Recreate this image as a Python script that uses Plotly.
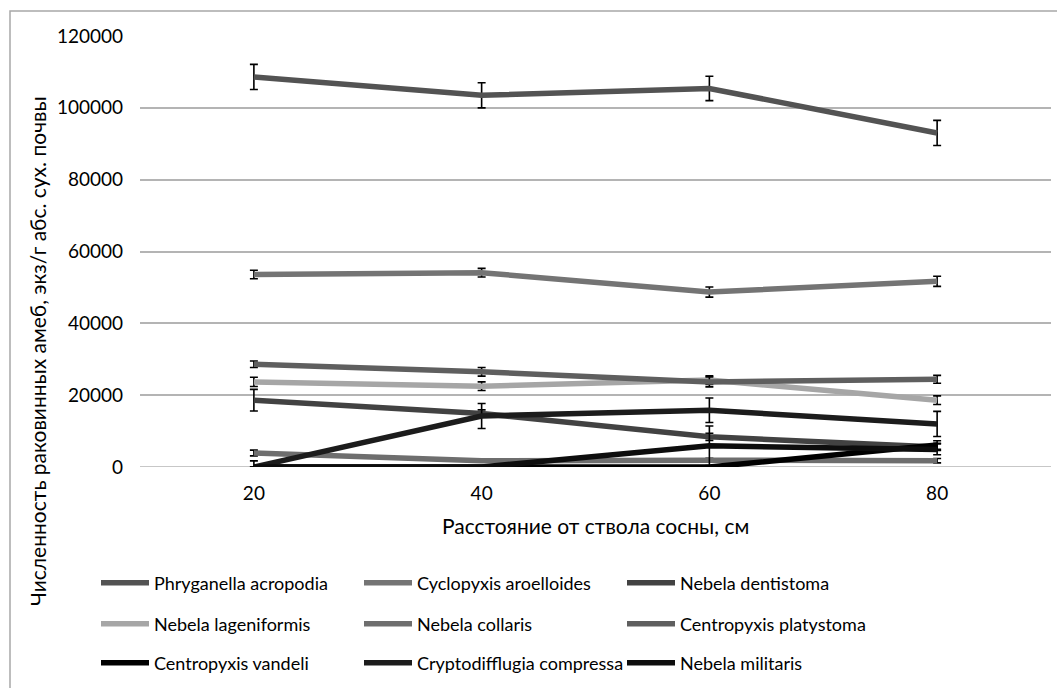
import plotly.graph_objects as go

# Distance from the pine trunk, cm
distance = [20, 40, 60, 80]

species = [
    "Phryganella acropodia",
    "Cyclopyxis aroelloides",
    "Nebela dentistoma",
    "Nebela lageniformis",
    "Nebela collaris",
    "Centropyxis platystoma",
    "Centropyxis vandeli",
    "Cryptodifflugia compressa",
    "Nebela militaris",
]

# Abundance, ind./g of absolutely dry soil, and its error
phryganella = [108600, 103500, 105400, 93000]
phryganella_err = [3500, 3500, 3400, 3500]
cyclopyxis = [53600, 54100, 48700, 51700]
cyclopyxis_err = [1200, 1200, 1400, 1400]
dentistoma = [18600, 14900, 8400, 5600]
dentistoma_err = [3000, 1000, 1000, 1000]
lageniformis = [23700, 22500, 24200, 18600]
lageniformis_err = [1300, 1200, 1200, 1200]
collaris = [3900, 1750, 1900, 1750]
collaris_err = [800, 400, 500, 600]
platystoma = [28600, 26500, 23700, 24400]
platystoma_err = [900, 1200, 1400, 1100]
vandeli = [0, 0, 0, 6100]
vandeli_err = [0, 0, 0, 1200]
cryptodifflugia = [0, 14200, 15800, 12000]
cryptodifflugia_err = [1700, 3500, 3400, 3500]
militaris = [0, 0, 5900, 4900]
militaris_err = [0, 0, 5500, 1500]

values = [phryganella, cyclopyxis, dentistoma, lageniformis, collaris,
          platystoma, vandeli, cryptodifflugia, militaris]
errors = [phryganella_err, cyclopyxis_err, dentistoma_err, lageniformis_err,
          collaris_err, platystoma_err, vandeli_err, cryptodifflugia_err,
          militaris_err]
colors = ["#535353", "#747474", "#424242", "#a6a6a6", "#6e6e6e",
          "#5f5f5f", "#000000", "#1c1c1c", "#0d0d0d"]
legend_ids = ["legend", "legend", "legend",
              "legend2", "legend2", "legend2",
              "legend3", "legend3", "legend3"]

FONT = "Lato, 'Open Sans', 'DejaVu Sans', sans-serif"

# plot area in pixels
W, H = 1057, 688
L, R, T, B = 140, 6, 36, 221
pw, ph = W - L - R, H - T - B


def px_x(x):
    return (x - L) / pw


def px_y(y):
    return (H - B - y) / ph


fig = go.Figure()
for name, vals, err, col, lg in zip(species, values, errors, colors, legend_ids):
    fig.add_trace(go.Scatter(
        x=distance, y=vals, name=name, mode="lines",
        line=dict(color=col, width=5.5),
        error_y=dict(type="data", array=err, visible=True,
                     color="#000000", thickness=1.6, width=4),
        legend=lg,
    ))

legend_common = dict(
    orientation="h", xanchor="left", yanchor="middle",
    entrywidth=200, entrywidthmode="pixels", itemwidth=48,
    font=dict(family=FONT, size=18, color="#000000"),
    bgcolor="rgba(0,0,0,0)", borderwidth=0, traceorder="normal",
)

fig.update_layout(
    width=W, height=H,
    margin=dict(l=L, r=R, t=T, b=B, autoexpand=False),
    paper_bgcolor="white", plot_bgcolor="white",
    font=dict(family=FONT, size=19, color="#000000"),
    xaxis=dict(
        range=[10, 90], tickvals=distance, ticktext=[str(d) for d in distance],
        showgrid=False, zeroline=False, showline=False,
        ticks="", ticklabelstandoff=13,
        tickfont=dict(family=FONT, size=19, color="#000000"),
    ),
    yaxis=dict(
        range=[0, 120000], dtick=20000, tickformat="d",
        showgrid=True, gridcolor="#b4b4b4", gridwidth=1.6,
        zeroline=False, showline=False, ticks="", ticklabelstandoff=16,
        tickfont=dict(family=FONT, size=19, color="#000000"),
    ),
    legend=dict(legend_common, x=px_x(96), y=px_y(583)),
    legend2=dict(legend_common, x=px_x(96), y=px_y(624)),
    legend3=dict(legend_common, x=px_x(96), y=px_y(663)),
    showlegend=True,
)

# baseline at zero drawn like the grid
fig.add_shape(type="line", xref="paper", yref="y", x0=0, x1=1, y0=0, y1=0,
              line=dict(color="#b4b4b4", width=1.6), layer="below")

# chart frame
fig.add_shape(type="rect", xref="paper", yref="paper",
              x0=px_x(10), x1=px_x(1070), y0=px_y(11), y1=px_y(700),
              line=dict(color="#a8a8a8", width=1.5))

fig.add_annotation(
    text="Расстояние от ствола сосны, см", xref="paper", yref="paper",
    x=px_x(595), y=px_y(525), xanchor="center", yanchor="middle",
    showarrow=False,
    font=dict(family=FONT, size=21, color="#000000"),
)
fig.add_annotation(
    text="Численность раковинных амеб, экз/г абс. сух. почвы",
    xref="paper", yref="paper", x=px_x(37), y=px_y(351),
    xanchor="center", yanchor="middle",
    textangle=-90, showarrow=False,
    font=dict(family=FONT, size=21, color="#000000"),
)

fig.write_html("out.html")
